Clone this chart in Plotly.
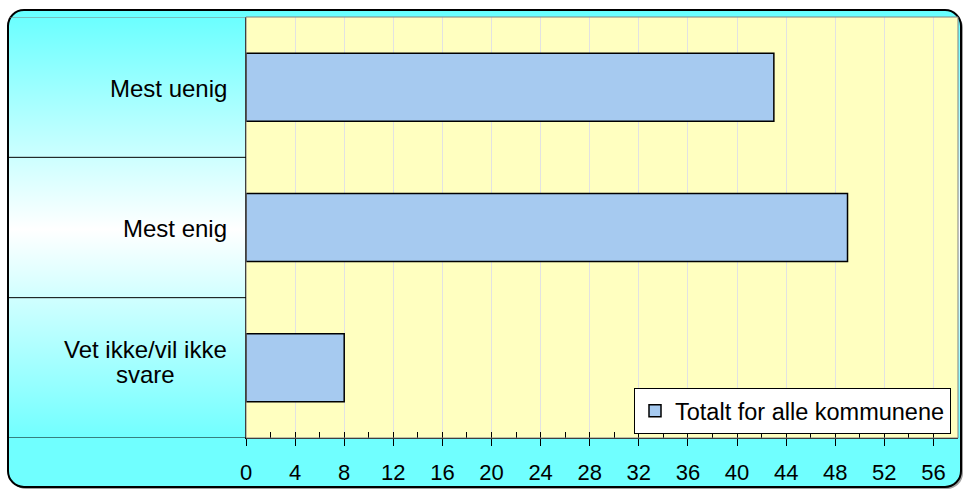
import base64
import plotly.graph_objects as go

categories = ["Mest uenig", "Mest enig", "Vet ikke/vil ikke<br>svare"]
values = [43, 49, 8]
series_name = "Totalt for alle kommunene"

W, H = 964, 490
x0px, x1px = 246, 958
ytop, ybot = 17, 438

svg = f'''<svg xmlns="http://www.w3.org/2000/svg" width="{W}" height="{H}" viewBox="0 0 {W} {H}">
<defs><linearGradient id="g" x1="0" y1="0" x2="0" y2="1">
<stop offset="0" stop-color="#66FFFF"/>
<stop offset="0.46" stop-color="#FFFFFF"/>
<stop offset="0.9" stop-color="#70FFFF"/>
<stop offset="1" stop-color="#70FFFF"/>
</linearGradient></defs>
<rect x="10" y="12" width="953" height="477" rx="16" ry="16" fill="#A0A0A0"/>
<rect x="8" y="10" width="953" height="477" rx="16" ry="16" fill="url(#g)" stroke="#000" stroke-width="2"/>
</svg>'''
src = "data:image/svg+xml;base64," + base64.b64encode(svg.encode()).decode()

FONT = "Liberation Sans, Arial"

fig = go.Figure()
fig.add_trace(go.Bar(
    y=categories, x=values, orientation="h", name=series_name,
    marker=dict(color="#A6CAF0", line=dict(color="#000000", width=1.5)),
    width=0.485, showlegend=True,
))

xdom = [x0px / W, x1px / W]
ydom = [1 - ybot / H, 1 - ytop / H]

shapes = [
    dict(type="rect", xref="x domain", yref="y domain", x0=0, x1=1, y0=0, y1=1,
         fillcolor="#FFFFC0", line=dict(width=0), layer="below"),
    dict(type="rect", xref="x domain", yref="y domain", x0=0, x1=1, y0=0, y1=1,
         fillcolor="rgba(0,0,0,0)", line=dict(color="#808080", width=1), layer="above"),
]
for b in [-0.5, 0.5, 1.5, 2.5]:
    shapes.append(dict(type="line", xref="paper", yref="y", x0=9 / W, x1=x0px / W, y0=b, y1=b,
                       line=dict(color="#000000" if b != -0.5 else "#808080", width=1)))

annotations = []
for c in categories:
    lines = c.split("<br>")
    if len(lines) == 1:
        annotations.append(dict(text=c, xref="paper", yref="y", x=229 / W, y=c, xanchor="right",
                                yanchor="middle", yshift=-1, showarrow=False,
                                font=dict(family=FONT, size=24, color="#000")))
    else:
        shifts = [18, -7]
        for ln, s in zip(lines, shifts):
            annotations.append(dict(text=ln, xref="paper", yref="y", x=145 / W, y=c, xanchor="center",
                                    yanchor="middle", yshift=s, showarrow=False,
                                    font=dict(family=FONT, size=24, color="#000")))

fig.update_layout(
    width=W, height=H,
    margin=dict(l=0, r=0, t=0, b=0),
    paper_bgcolor="#FFFFFF",
    plot_bgcolor="rgba(0,0,0,0)",
    images=[dict(source=src, xref="paper", yref="paper", x=0, y=1, sizex=1, sizey=1,
                 sizing="stretch", xanchor="left", yanchor="top", layer="below")],
    shapes=shapes,
    annotations=annotations,
    font=dict(family=FONT, size=22, color="#000"),
    xaxis=dict(domain=xdom, range=[0, 58], dtick=4, tick0=0, showgrid=True, gridcolor="#E2E2E2",
               gridwidth=1, zeroline=False, showline=True, linecolor="#000", linewidth=1,
               ticks="outside", ticklen=7, tickcolor="#000", tickwidth=1,
               ticklabelstandoff=8, automargin=False, fixedrange=True,
               tickfont=dict(size=22)),
    xaxis2=dict(domain=xdom, range=[0, 58], overlaying="x", anchor="y", side="bottom",
                dtick=4, tick0=0, showgrid=False, zeroline=False, showticklabels=False,
                ticks="inside", ticklen=6, tickcolor="#000", tickwidth=1,
                minor=dict(dtick=2, ticks="inside", ticklen=6, tickcolor="#000", showgrid=False)),
    yaxis=dict(domain=ydom, range=[2.5, -0.5], type="category", categoryorder="array",
               categoryarray=categories, showticklabels=False, ticks="", showgrid=False,
               zeroline=False, showline=True, linecolor="#000", linewidth=1, automargin=False),
    legend=dict(x=951 / W, y=1 - 388 / H, xanchor="right", yanchor="top",
                bgcolor="#FFFFFF", bordercolor="#000", borderwidth=1,
                font=dict(size=23.5), itemwidth=30, tracegroupgap=0),
    showlegend=True,
    bargap=0.5,
)
fig.add_trace(go.Scatter(x=[0], y=[categories[0]], xaxis="x2", mode="markers",
                         marker=dict(opacity=0), showlegend=False, hoverinfo="skip"))

fig.write_html("out.html", config={"displayModeBar": False},
               post_script="document.body.style.margin='0';")
